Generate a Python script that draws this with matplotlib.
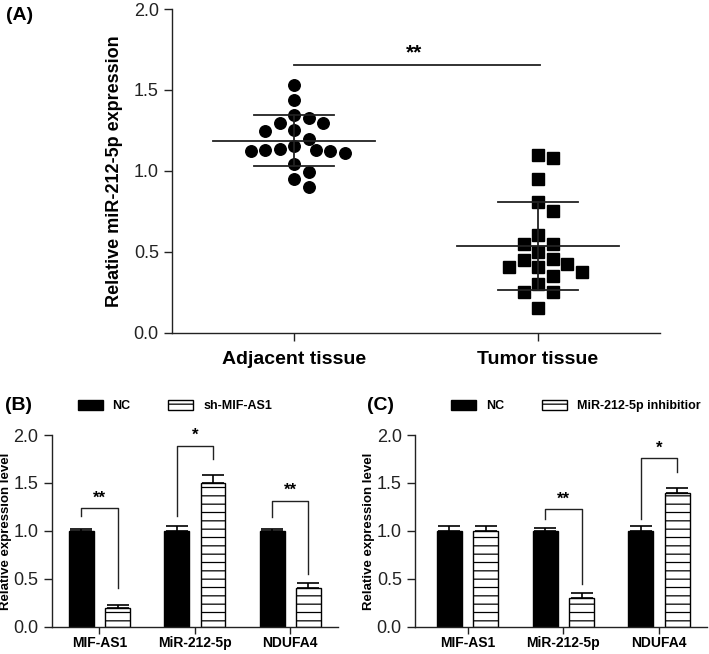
import numpy as np
import matplotlib
matplotlib.use("Agg")
from matplotlib import pyplot as plt
from matplotlib.patches import Patch

plt.rcParams['font.family'] = ['Liberation Sans', 'DejaVu Sans']
plt.rcParams['hatch.linewidth'] = 0.9

# panel A data
adjacent = [1.533, 1.439, 1.347, 1.296, 1.296, 1.325, 1.255, 1.247, 1.198, 1.155,
            1.126, 1.123, 1.112, 1.123, 1.126, 1.137, 1.044, 0.995, 0.949, 0.898]
tumor = [1.100, 1.080, 0.947, 0.804, 0.751, 0.602, 0.550, 0.550, 0.499, 0.455,
         0.422, 0.403, 0.450, 0.406, 0.373, 0.350, 0.299, 0.250, 0.250, 0.154]
a_labels = ['Adjacent tissue', 'Tumor tissue']

# panels B and C data
genes = ['MIF-AS1', 'MiR-212-5p', 'NDUFA4']
b_nc = [1.0, 1.0, 1.0]
b_nc_err = [0.02, 0.05, 0.02]
b_sh = [0.2, 1.5, 0.4]
b_sh_err = [0.025, 0.08, 0.055]
c_nc = [1.0, 1.0, 1.0]
c_nc_err = [0.05, 0.03, 0.05]
c_inh = [1.0, 0.3, 1.4]
c_inh_err = [0.05, 0.055, 0.045]
# brackets: group, top, left end, right end, label
b_sig = [(0, 1.235, 1.155, 0.40, '**'), (1, 1.885, 1.155, 1.745, '*'), (2, 1.31, 1.14, 0.55, '**')]
c_sig = [(1, 1.225, 1.125, 0.45, '**'), (2, 1.757, 1.12, 1.617, '*')]


def swarm(vals, xpx, ypx, step, diam):
    offs = np.zeros(len(vals))
    placed = []
    cands = [0.0]
    for n in range(1, 30):
        cands += [n * 0.5, -n * 0.5]
    for i in np.argsort(vals)[::-1]:
        y = vals[i] * ypx
        for c in cands:
            x = c * step
            if all((x - px) ** 2 + (y - py) ** 2 >= diam ** 2 for px, py in placed):
                break
        placed.append((x, y))
        offs[i] = x / xpx
    return offs


def style(ax):
    for s in ['top', 'right']:
        ax.spines[s].set_visible(False)
    for s in ['left', 'bottom']:
        ax.spines[s].set_linewidth(1.0)
        ax.spines[s].set_color('#222222')
    ax.tick_params(direction='out', length=6, width=1.0, color='#222222')
    ax.set_ylim(0, 2.0)
    ax.set_yticks([0, 0.5, 1.0, 1.5, 2.0])
    ax.set_yticklabels(['%.1f' % v for v in [0, 0.5, 1.0, 1.5, 2.0]], fontsize=13, color='#222222')


fig = plt.figure(figsize=(7.09, 6.54), dpi=100)

# ---------- (A) ----------
axA = fig.add_axes([172 / 709, 1 - 332.5 / 654, 488 / 709, 323.5 / 654])
style(axA)
axA.set_xlim(0, 4)
pos = [1, 3]
for p, vals, m in zip(pos, [adjacent, tumor], ['o', 's']):
    vals = np.array(vals)
    off = swarm(vals, 122, 161, 14.5, 13.5)
    axA.plot(p + off, vals, m, color='black', ms=8.3, ls='none', zorder=3)
    mu = vals.mean()
    sd = vals.std(ddof=1)
    axA.plot([p - 0.66, p + 0.66], [mu, mu], color='#222222', lw=1.3, zorder=4)
    axA.plot([p - 0.33, p + 0.33], [mu + sd, mu + sd], color='#222222', lw=1.3, zorder=4)
    axA.plot([p - 0.33, p + 0.33], [mu - sd, mu - sd], color='#222222', lw=1.3, zorder=4)
    axA.plot([p, p], [mu - sd, mu + sd], color='#222222', lw=1.3, zorder=4)
axA.plot([pos[0], pos[1] + 0.02], [1.653, 1.653], color='#222222', lw=1.3)
axA.text(sum(pos) / 2 - 0.02, 1.67, '**', ha='center', va='bottom', fontsize=15, fontweight='bold')
axA.set_xticks(pos)
axA.set_xticklabels(a_labels, fontsize=14, fontweight='bold')
axA.tick_params(axis='x', pad=7)
axA.set_ylabel('Relative miR-212-5p expression', fontsize=13, fontweight='bold', labelpad=8)
fig.text(6 / 709, 1 - 16 / 654, '(A)', fontsize=14, fontweight='bold', va='center')


# ---------- (B) and (C) ----------
def bar_panel(ax, nc, nc_err, tr, tr_err, sig, tr_label, legx):
    style(ax)
    x = np.arange(len(genes)) + 0.5
    w = 0.26
    d = 0.19
    ax.bar(x - d, nc, w, color='black', edgecolor='black', lw=1.0, zorder=2)
    ax.bar(x + d, tr, w, color='white', edgecolor='black', hatch='--', lw=1.0, zorder=2)
    ax.errorbar(x - d, nc, yerr=[np.zeros(3), nc_err], fmt='none', ecolor='black',
                elinewidth=1.2, capsize=8, capthick=1.2, zorder=3)
    ax.errorbar(x + d, tr, yerr=[np.zeros(3), tr_err], fmt='none', ecolor='black',
                elinewidth=1.2, capsize=8, capthick=1.2, zorder=3)
    for g, top, lo, ro, lab in sig:
        ax.plot([x[g] - d, x[g] - d, x[g] + d, x[g] + d], [lo, top, top, ro],
                color='#222222', lw=1.0)
        ax.text(x[g], top + 0.03, lab, ha='center', va='bottom', fontsize=12, fontweight='bold')
    ax.set_xticks(x)
    ax.set_xticklabels(genes, fontsize=10, fontweight='bold')
    ax.tick_params(axis='x', length=5, pad=2)
    ax.set_ylabel('Relative expression level', fontsize=9.5, fontweight='bold', labelpad=1)
    h = [Patch(facecolor='black', edgecolor='black'),
         Patch(facecolor='white', edgecolor='black', hatch='--')]
    ax.legend(h, ['NC', tr_label], ncol=2, frameon=False, loc='center',
              bbox_to_anchor=(legx, 1.15), prop={'weight': 'bold', 'size': 9},
              handlelength=2.0, handleheight=0.9, columnspacing=3.0, handletextpad=0.8)


axB = fig.add_axes([51.7 / 709, 1 - 626.7 / 654, 286.3 / 709, 191.7 / 654])
bar_panel(axB, b_nc, b_nc_err, b_sh, b_sh_err, b_sig, 'sh-MIF-AS1', 0.43)
axB.set_xlim(0, 3)
fig.text(5 / 709, 1 - 406 / 654, '(B)', fontsize=14, fontweight='bold', va='center')

axC = fig.add_axes([415 / 709, 1 - 626.7 / 654, 292 / 709, 191.7 / 654])
bar_panel(axC, c_nc, c_nc_err, c_inh, c_inh_err, c_sig, 'MiR-212-5p inhibitior', 0.55)
axC.set_xlim(-0.05, 3)
fig.text(367 / 709, 1 - 406 / 654, '(C)', fontsize=14, fontweight='bold', va='center')

fig.savefig('out.png', dpi=100)
